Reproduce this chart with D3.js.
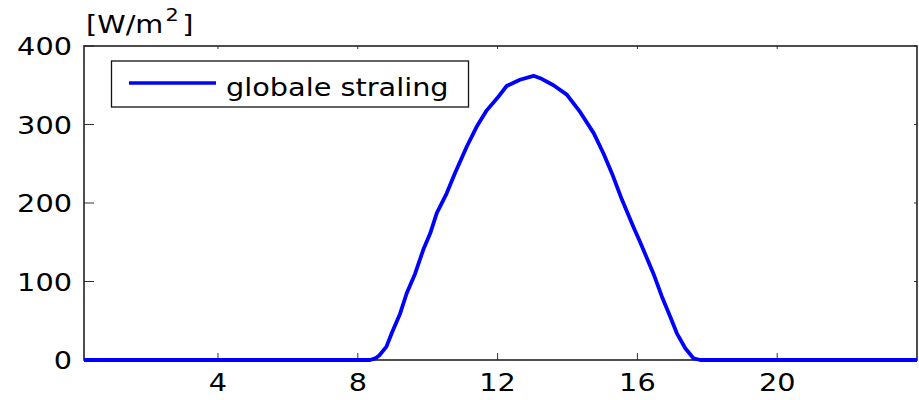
<!DOCTYPE html>
<html><head><meta charset="utf-8">
<script src="https://cdn.jsdelivr.net/npm/d3@7"></script>
<style>body{margin:0;background:#fff}text{font-family:"DejaVu Sans",sans-serif;fill:#000}</style>
</head><body><svg id="c" width="919" height="400"></svg>
<script>
const hours = [0.1667, 8.35, 8.5, 8.62, 8.82, 8.97, 9.21, 9.40, 9.64, 9.87, 10.07, 10.26, 10.54, 10.78, 11.12, 11.40, 11.69, 11.98, 12.26, 12.64, 13.03, 13.22, 13.6, 13.98, 14.36, 14.75, 15.03, 15.27, 15.56, 15.89, 16.08, 16.46, 16.70, 16.94, 17.13, 17.37, 17.61, 17.8, 24];
const radiation = [0, 0, 2, 6, 17, 34, 59, 85, 110, 140, 161, 187, 212, 238, 272, 297, 318, 333, 349, 357, 362, 359, 350, 338, 316, 289, 263, 238, 204, 169, 150, 110, 81, 55, 34, 15, 2, 0, 0];
const xTicks = [4, 8, 12, 16, 20];
const yTicks = [0, 100, 200, 300, 400];
const seriesName = "globale straling";

const L = 84, R = 917, T = 46, B = 360, SX = 1.15, FS = 25;
const svg = d3.select("#c");
const x = d3.scaleLinear().domain([1/6, 24]).range([L, R]);
const y = d3.scaleLinear().domain([0, 400]).range([B, T]);

function stext(g, tx, ty, str, anchor) {
  return g.append("text").attr("transform", `translate(${tx},${ty}) scale(${SX},1)`)
    .attr("text-anchor", anchor).attr("font-size", FS).text(str);
}

// ticks
const tg = svg.append("g").attr("stroke", "#333").attr("stroke-width", 1);
yTicks.forEach(v => {
  tg.append("line").attr("x1", L).attr("x2", L + 10).attr("y1", y(v)).attr("y2", y(v));
  tg.append("line").attr("x1", R).attr("x2", R - 3).attr("y1", y(v)).attr("y2", y(v));
});
xTicks.forEach(v => {
  tg.append("line").attr("x1", x(v)).attr("x2", x(v)).attr("y1", B).attr("y2", B - 7);
  tg.append("line").attr("x1", x(v)).attr("x2", x(v)).attr("y1", T).attr("y2", T + 3);
});
// frame
svg.append("rect").attr("x", L).attr("y", T).attr("width", R - L).attr("height", B - T)
  .attr("fill", "none").attr("stroke", "#222").attr("stroke-width", 1.6);

// labels
const lg = svg.append("g");
yTicks.forEach(v => stext(lg, 72, y(v) + 9, String(v), "end"));
xTicks.forEach(v => stext(lg, x(v), 391, String(v), "middle"));
const ul = lg.append("text").attr("transform", `translate(86,33) scale(${SX},1)`).attr("font-size", FS);
ul.append("tspan").text("[W/m");
ul.append("tspan").attr("font-size", 18).attr("dx", 2).attr("dy", -12).text("2");
ul.append("tspan").attr("dx", 3).attr("dy", 12).text("]");

// line
svg.append("defs").append("clipPath").attr("id", "cp").append("rect")
  .attr("x", L).attr("y", T).attr("width", R - L).attr("height", B - T + 3);
const pts = hours.map((h, i) => [h, radiation[i]]);
svg.append("path").datum(pts).attr("clip-path", "url(#cp)")
  .attr("d", d3.line().x(d => x(d[0])).y(d => y(d[1])))
  .attr("fill", "none").attr("stroke", "#0000ff").attr("stroke-width", 3.8).attr("stroke-linejoin", "round");

// legend
svg.append("rect").attr("x", 111.5).attr("y", 61).attr("width", 357).attr("height", 46)
  .attr("fill", "#fff").attr("stroke", "#111").attr("stroke-width", 1.3);
svg.append("line").attr("x1", 129).attr("x2", 216).attr("y1", 83).attr("y2", 83)
  .attr("stroke", "#0000ff").attr("stroke-width", 3.5);
stext(svg, 226, 96, seriesName, "start");
</script></body></html>
